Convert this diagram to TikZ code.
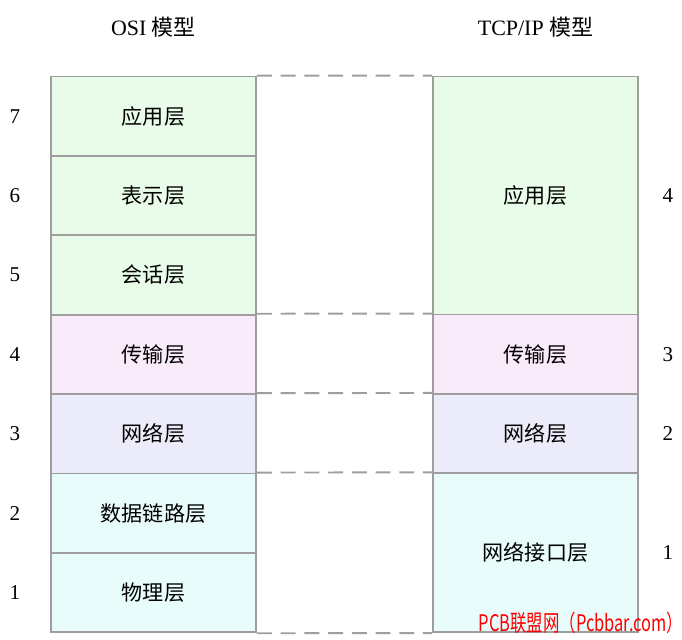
\documentclass[tikz,border=0pt]{standalone}
\usepackage{fontspec}
\setmainfont{Liberation Serif}
\newfontfamily\cjk{Noto Sans CJK SC}

\definecolor{edgegray}{RGB}{158,158,158}
\definecolor{appfill}{RGB}{233,252,233}
\definecolor{transfill}{RGB}{250,235,250}
\definecolor{netfill}{RGB}{236,235,250}
\definecolor{linkfill}{RGB}{233,252,252}

\tikzset{
  layer/.style={draw=edgegray, line width=1.1pt, minimum width=4.1cm,
    minimum height=1.588cm, inner sep=0pt, font=\cjk\fontsize{12}{14}\selectfont},
  number/.style={font=\fontsize{12}{14}\selectfont},
  title/.style={font=\fontsize{12.5}{15}\selectfont},
  gap line/.style={draw=edgegray, line width=1.1pt, dash pattern=on 8.5pt off 5pt}
}

\begin{document}
\begin{tikzpicture}[x=0.02cm, y=-0.02cm]
        \useasboundingbox (0,0) rectangle (682,639);

        % OSI layers
        \foreach \n/\t/\c [count=\i from 0] in {7/应用层/appfill, 6/表示层/appfill, 5/会话层/appfill, 4/传输层/transfill, 3/网络层/netfill, 2/数据链路层/linkfill, 1/物理层/linkfill}
        {
        \node [layer, fill=\c] (osi-\n) at (153.5,116.2+\i*79.4) {\t};
        \node [number] (osinum-\n) at (15,116.2+\i*79.4) {\n};
        }

        % TCP/IP layers
        \node [layer, fill=appfill, minimum height=4.764cm] (tcp-4) at (535.5,195.6) {应用层};
        \node [layer, fill=transfill] (tcp-3) at (535.5,354.2) {传输层};
        \node [layer, fill=netfill] (tcp-2) at (535.5,433.6) {网络层};
        \node [layer, fill=linkfill, minimum height=3.176cm] (tcp-1) at (535.5,552.7) {网络接口层};

        \foreach \n/\y in {4/195.6, 3/354.2, 2/433.6, 1/552.7}
        \node [number] (tcpnum-\n) at (668,\y) {\n};

        % dashed joins
        \foreach \a/\b in {7/4, 4/3, 3/2, 2/1}
        \draw [gap line] (osi-\a.north east) -- (tcp-\b.north west);
        \draw [gap line] (osi-1.south east) -- (tcp-1.south west);

        % titles
        \node [title] (osi-title) at (153.5,27) {OSI {\cjk 模型}};
        \node [title] (tcp-title) at (535.5,27) {TCP/IP {\cjk 模型}};

        \node [text=red, font=\cjk\fontsize{13}{15}\selectfont] (mark) at (581,623) {\scalebox{0.72}[1]{PCB联盟网（Pcbbar.com）}};

    \end{tikzpicture}
\end{document}
